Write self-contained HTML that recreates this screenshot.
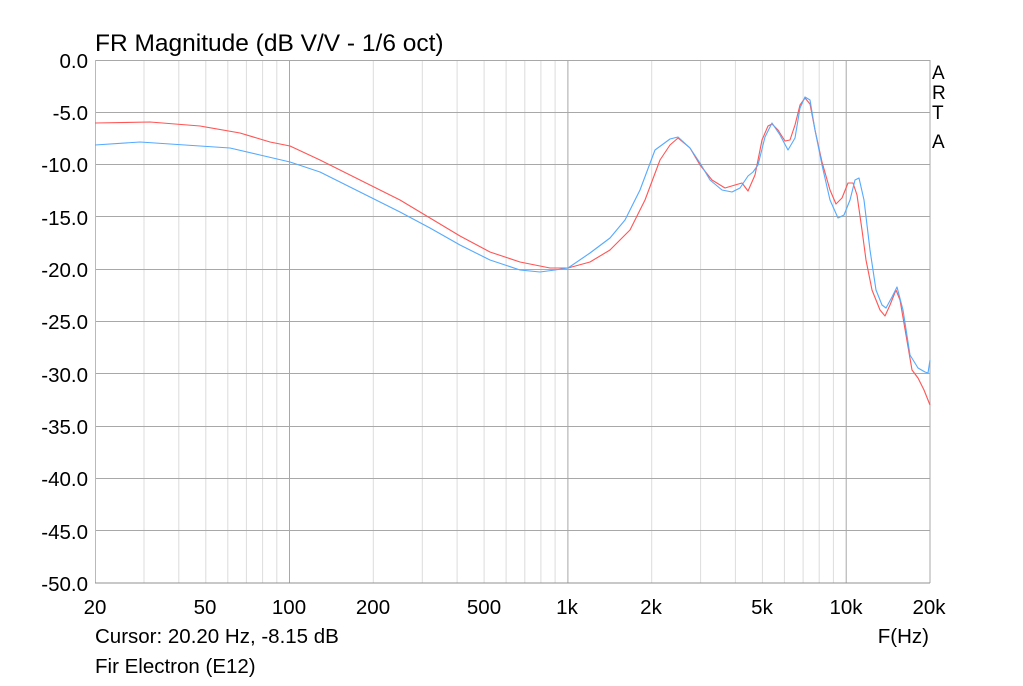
<!DOCTYPE html>
<html><head><style>
body{margin:0;background:#fff;}
svg text{font-family:"Liberation Sans",Arial,sans-serif;fill:#000;}
</style></head><body>
<svg width="1023" height="681" xmlns="http://www.w3.org/2000/svg">
<rect width="1023" height="681" fill="#fff"/>
<g stroke="#dcdcdc" stroke-width="1">
<line x1="144" y1="60" x2="144" y2="583"/><line x1="178.8" y1="60" x2="178.8" y2="583"/><line x1="205.8" y1="60" x2="205.8" y2="583"/><line x1="227.8" y1="60" x2="227.8" y2="583"/><line x1="246.4" y1="60" x2="246.4" y2="583"/><line x1="262.6" y1="60" x2="262.6" y2="583"/><line x1="276.8" y1="60" x2="276.8" y2="583"/>
<line x1="373.3" y1="60" x2="373.3" y2="583"/><line x1="422.3" y1="60" x2="422.3" y2="583"/><line x1="457.1" y1="60" x2="457.1" y2="583"/><line x1="484.1" y1="60" x2="484.1" y2="583"/><line x1="506.1" y1="60" x2="506.1" y2="583"/><line x1="524.8" y1="60" x2="524.8" y2="583"/><line x1="540.9" y1="60" x2="540.9" y2="583"/><line x1="555.1" y1="60" x2="555.1" y2="583"/>
<line x1="651.7" y1="60" x2="651.7" y2="583"/><line x1="700.6" y1="60" x2="700.6" y2="583"/><line x1="735.4" y1="60" x2="735.4" y2="583"/><line x1="762.4" y1="60" x2="762.4" y2="583"/><line x1="784.4" y1="60" x2="784.4" y2="583"/><line x1="803.1" y1="60" x2="803.1" y2="583"/><line x1="819.2" y1="60" x2="819.2" y2="583"/><line x1="833.4" y1="60" x2="833.4" y2="583"/>
</g>
<g stroke="#a8a8a8" stroke-width="1">
<line x1="289.5" y1="60" x2="289.5" y2="583"/><line x1="567.9" y1="60" x2="567.9" y2="583"/><line x1="846.2" y1="60" x2="846.2" y2="583"/><line x1="930" y1="60" x2="930" y2="583"/>
<line x1="95" y1="60.5" x2="930" y2="60.5"/><line x1="95" y1="112.5" x2="930" y2="112.5"/><line x1="95" y1="164.5" x2="930" y2="164.5"/><line x1="95" y1="216.5" x2="930" y2="216.5"/><line x1="95" y1="269.5" x2="930" y2="269.5"/><line x1="95" y1="321.5" x2="930" y2="321.5"/><line x1="95" y1="373.5" x2="930" y2="373.5"/><line x1="95" y1="426.5" x2="930" y2="426.5"/><line x1="95" y1="478.5" x2="930" y2="478.5"/><line x1="95" y1="530.5" x2="930" y2="530.5"/>
</g>
<line x1="95.5" y1="60" x2="95.5" y2="583" stroke="#c8c070" stroke-width="1"/>
<line x1="95" y1="583" x2="930" y2="583" stroke="#909090" stroke-width="1"/>
<polyline fill="none" stroke="#ff5555" stroke-width="1.1" stroke-linejoin="round" points="95,123 150,122 200,126 240,133 270,142 290,146 320,160 360,180 400,200 430,218 460,236 490,252 520,262 550,268 568,268 590,262 610,250 630,230 645,200 660,160 670,145 678,138 690,148 700,165 712,180 725,188 735,185 742,183 748,191 755,175 762,140 768,126 772,124 778,130 785,141 790,140 795,125 800,105 805,98 810,104 815,130 822,162 830,190 836,204 842,198 848,183 853,183 857,195 862,230 866,260 872,290 880,310 885,316 890,305 896,290 900,300 906,335 912,370 918,378 924,390 928,400 930,405"/>
<polyline fill="none" stroke="#55aaff" stroke-width="1.1" stroke-linejoin="round" points="95,145 140,142 200,146 230,148 260,155 290,162 320,172 360,192 400,212 430,228 460,245 490,260 520,270 540,272 555,270 568,268 590,253 610,238 625,220 640,190 655,150 670,139 678,137 690,148 700,163 710,180 722,190 732,192 740,188 748,176 753,172 758,165 765,137 772,123 780,135 788,150 795,138 800,108 805,97 810,100 815,130 822,165 830,200 838,218 844,215 850,200 855,180 859,178 864,200 870,250 876,290 882,305 886,308 892,297 897,287 903,310 910,355 918,368 925,372 928,373 930,360"/>
<text x="95" y="51" font-size="24.5">FR Magnitude (dB V/V - 1/6 oct)</text>
<g font-size="20.5" text-anchor="end">
<text x="88" y="68">0.0</text><text x="88" y="120">-5.0</text><text x="88" y="172">-10.0</text><text x="88" y="225">-15.0</text><text x="88" y="277">-20.0</text><text x="88" y="329">-25.0</text><text x="88" y="382">-30.0</text><text x="88" y="434">-35.0</text><text x="88" y="486">-40.0</text><text x="88" y="539">-45.0</text><text x="88" y="591">-50.0</text>
</g>
<g font-size="20.5" text-anchor="middle">
<text x="95" y="614">20</text><text x="205" y="614">50</text><text x="289" y="614">100</text><text x="373" y="614">200</text><text x="484" y="614">500</text><text x="567" y="614">1k</text><text x="651" y="614">2k</text><text x="762" y="614">5k</text><text x="846" y="614">10k</text><text x="929" y="614">20k</text>
</g>
<g font-size="19"><text x="932" y="79">A</text><text x="932" y="99">R</text><text x="932" y="119">T</text><text x="932" y="148">A</text></g>
<text x="95" y="643" font-size="20.5">Cursor: 20.20 Hz, -8.15 dB</text>
<text x="929" y="643" font-size="20.5" text-anchor="end">F(Hz)</text>
<text x="95" y="673" font-size="20.5">Fir Electron (E12)</text>
</svg>
</body></html>
